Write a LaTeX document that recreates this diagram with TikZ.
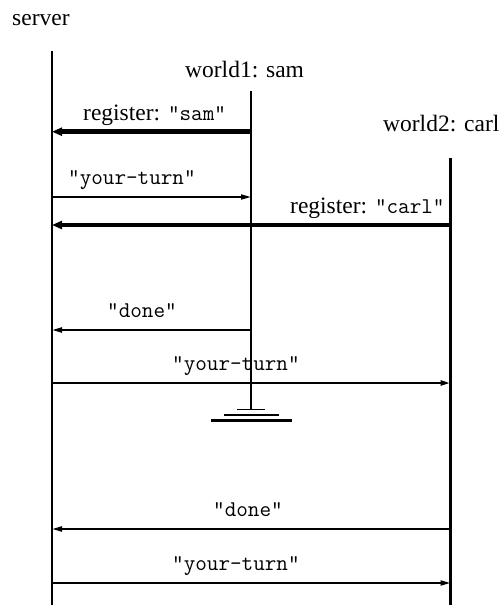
\documentclass[tikz,border=0pt]{standalone}
\usepackage{fontspec}
\setmainfont{Liberation Serif}
\usetikzlibrary{arrows.meta}
\newcommand\qq[1]{{\ttfamily\fontsize{22.5}{24}\selectfont "#1"}}
\begin{document}
\begin{tikzpicture}[x=1pt,y=-1pt,
  font=\fontsize{23.5}{26}\selectfont,
  lbl/.style={inner sep=0pt, anchor=base west},
  life/.style={line width=2.2pt},
  msg/.style={line width=#1, -{Triangle[length=10pt,width=5pt]}},
  bigmsg/.style={line width=4.5pt, -{Triangle[length=10pt,width=8pt]}},
  gnd/.style={line width=#1}]
\useasboundingbox (0,0) rectangle (503,605);
% lifeline anchors
\coordinate (s) at (52,51);
\coordinate (sEnd) at (52,605);
\coordinate (w1) at (251,91);
\coordinate (w1End) at (251,409.5);
\coordinate (w2) at (450.5,158);
\coordinate (w2End) at (450.5,605);
% headers
\node[lbl] (serverLbl) at (12,25) {server};
\node[lbl] (w1Lbl) at (185,77) {world1: sam};
\node[lbl] (w2Lbl) at (383,131) {world2: carl};
% lifelines
\draw[life] (s) -- (sEnd);
\draw[life] (w1) -- (w1End);
\draw[line width=3.5pt] (w2) -- (w2End);
% ground
\coordinate (g1) at (251,409.5);
\coordinate (g2) at (251,414.7);
\coordinate (g3) at (251,420.3);
\draw[gnd=1.6pt] ([xshift=-14pt]g1) -- ([xshift=14pt]g1);
\draw[gnd=2pt] ([xshift=-27pt]g2) -- ([xshift=28pt]g2);
\draw[gnd=3pt] ([xshift=-40pt]g3) -- ([xshift=41pt]g3);
% message rows
\coordinate (m1) at (0,131.7);
\coordinate (m2) at (0,197);
\coordinate (m3) at (0,225);
\coordinate (m4) at (0,330);
\coordinate (m5) at (0,383);
\coordinate (m6) at (0,529);
\coordinate (m7) at (0,583);
\draw[bigmsg] (w1 |- m1) -- (s |- m1);
\draw[msg=1.6pt] (s |- m2) -- (w1 |- m2);
\draw[bigmsg] (w2 |- m3) -- (s |- m3);
\draw[msg=2pt] (w1 |- m4) -- (s |- m4);
\draw[msg=2.6pt] (s |- m5) -- (w2 |- m5);
\draw[msg=2pt] (w2 |- m6) -- (s |- m6);
\draw[msg=2pt] (s |- m7) -- (w2 |- m7);
% labels
\node[lbl] (l1) at (83,120) {register: \qq{sam}};
\node[lbl] (l2) at (68,184) {\qq{your-turn}};
\node[lbl] (l3) at (290,213) {register: \qq{carl}};
\node[lbl] (l4) at (107,317) {\qq{done}};
\node[lbl] (l5) at (172,370) {\qq{your-turn}};
\node[lbl] (l6) at (213,516) {\qq{done}};
\node[lbl] (l7) at (172,570) {\qq{your-turn}};
\end{tikzpicture}
\end{document}
